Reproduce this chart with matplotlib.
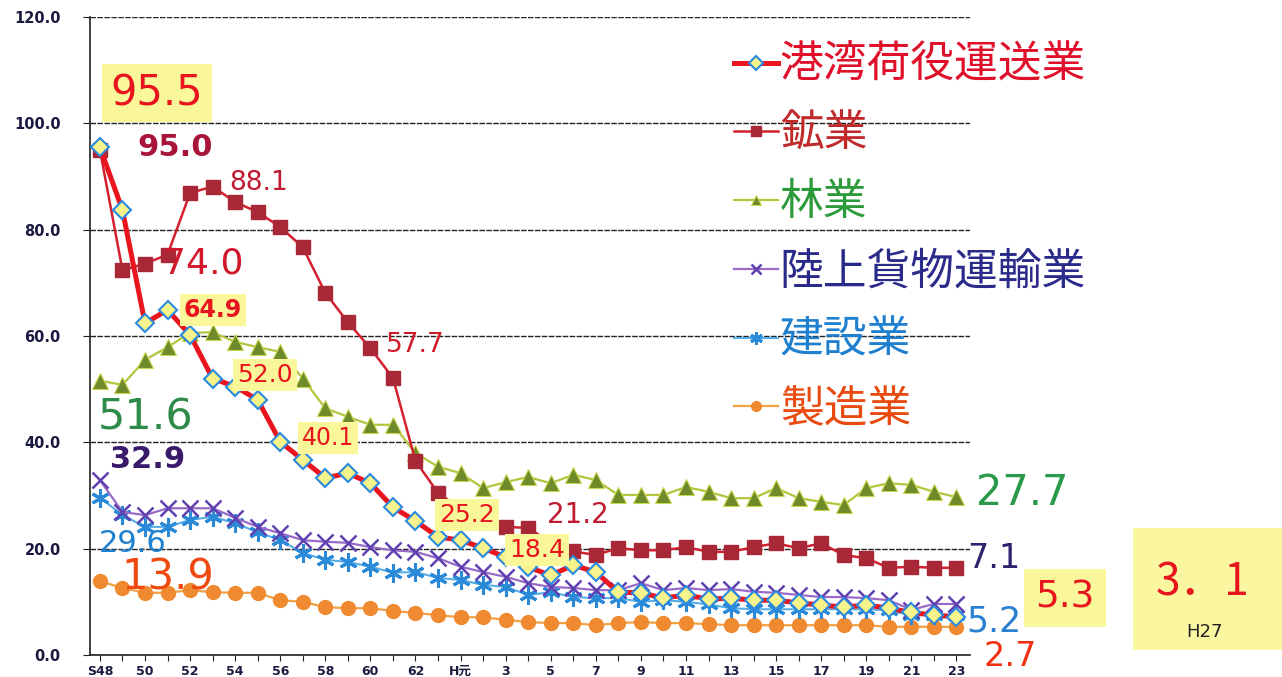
import numpy as np
import matplotlib
matplotlib.use("Agg")
import matplotlib.pyplot as plt
from matplotlib.patches import Rectangle

plt.rcParams['font.family'] = ['DejaVu Sans', 'Noto Sans CJK JP']

# ---------------- data ----------------
years = ['S48', '49', '50', '51', '52', '53', '54', '55', '56', '57', '58', '59', '60', '61',
         '62', '63', 'H元', '2', '3', '4', '5', '6', '7', '8', '9', '10', '11', '12', '13',
         '14', '15', '16', '17', '18', '19', '20', '21', '22', '23']

harbour = [95.5, 83.7, 62.4, 64.9, 60.2, 52.0, 50.5, 48.0, 40.1, 36.7, 33.3, 34.2, 32.3,
           27.8, 25.2, 22.2, 21.6, 20.1, 18.4, 16.5, 15.0, 16.9, 15.6, 11.8, 11.7, 10.7,
           11.3, 10.5, 10.7, 10.3, 10.3, 9.8, 9.4, 9.0, 9.4, 8.8, 8.0, 7.5, 7.2]
mining = [95.0, 72.4, 73.6, 75.3, 86.9, 88.1, 85.2, 83.3, 80.5, 76.7, 68.1, 62.6, 57.7,
          52.1, 36.5, 30.5, 27.5, 25.5, 24.1, 23.9, 21.2, 19.5, 18.8, 20.1, 19.7, 19.7,
          20.3, 19.4, 19.4, 20.3, 21.0, 20.1, 21.0, 18.8, 18.2, 16.4, 16.6, 16.4, 16.4]
forestry = [51.6, 50.8, 55.5, 57.9, 60.6, 60.7, 58.9, 57.9, 57.0, 52.0, 46.4, 44.8, 43.3,
            43.3, 38.0, 35.4, 34.2, 31.4, 32.5, 33.5, 32.3, 33.9, 32.9, 30.1, 30.1, 30.1,
            31.6, 30.7, 29.5, 29.5, 31.4, 29.5, 28.8, 28.2, 31.4, 32.3, 32.0, 30.7, 29.7]
land = [32.9, 26.9, 26.3, 27.6, 27.6, 27.6, 25.8, 24.1, 22.9, 21.6, 21.3, 21.1, 20.3,
        19.7, 19.4, 18.2, 16.6, 15.6, 14.7, 13.5, 12.8, 12.6, 12.2, 12.2, 13.5, 12.2,
        12.6, 12.2, 12.4, 11.9, 11.7, 11.3, 10.9, 10.9, 10.7, 10.3, 8.5, 9.6, 9.6]
construction = [29.6, 26.3, 24.1, 24.1, 25.4, 26.0, 24.8, 23.1, 21.6, 19.2, 17.9, 17.5,
                16.6, 15.5, 15.6, 14.5, 14.1, 13.2, 12.8, 11.3, 11.8, 10.9, 10.7, 10.7,
                10.0, 10.3, 10.0, 9.5, 8.8, 8.6, 8.6, 8.6, 8.6, 8.6, 8.6, 8.4, 7.5, 7.5, 7.5]
manufacturing = [13.9, 12.6, 11.7, 11.7, 12.2, 11.8, 11.7, 11.7, 10.3, 10.0, 9.0, 8.8, 8.8,
                 8.3, 7.9, 7.5, 7.1, 7.1, 6.6, 6.2, 6.0, 6.0, 5.6, 6.0, 6.2, 6.0, 6.0, 5.8,
                 5.6, 5.6, 5.6, 5.6, 5.6, 5.6, 5.6, 5.3, 5.3, 5.3, 5.3]

series_names = ['港湾荷役運送業', '鉱業', '林業', '陸上貨物運輸業', '建設業', '製造業']
yticks = [0, 20, 40, 60, 80, 100, 120]

# ---------------- figure ----------------
W, H = 1282, 677
fig = plt.figure(figsize=(W / 100, H / 100), dpi=100)
ax = fig.add_axes([90 / W, 1 - 655 / H, 880 / W, (655 - 17) / H])
x = np.arange(len(years))

def P(px, py):
    return (px / W, 1 - py / H)

l_man, = ax.plot(x, manufacturing, color='#f2a044', lw=1.6, marker='o', ms=10,
                 mfc='#f08a30', mec='#f08a30', zorder=3)
l_con, = ax.plot(x, construction, color='#5aaee8', lw=1.5, marker=(6, 2, 0), ms=13,
                 mew=2.2, mec='#2a8ad8', mfc='#2a8ad8', zorder=4)
l_land, = ax.plot(x, land, color='#9a6ac8', lw=1.6, marker='x', ms=11, mew=1.8,
                  mec='#6040b0', zorder=5)
l_for, = ax.plot(x, forestry, color='#b4c43c', lw=1.6, marker='^', ms=11,
                 mfc='#6e8a2a', mec='#c8d850', mew=0.8, zorder=6)
l_min, = ax.plot(x, mining, color='#d4202e', lw=1.8, marker='s', ms=10,
                 mfc='#a82838', mec='#a82838', zorder=7)
l_har, = ax.plot(x, harbour, color='#e8141e', lw=3.6, marker='D', ms=9.5,
                 mfc='#f6f28c', mec='#2a8ae0', mew=1.5, zorder=8)

ax.set_xlim(-0.44, 38.6)
ax.set_ylim(0, 120)
ax.set_yticks(yticks)
ax.set_yticklabels([f'{v:.1f}' for v in yticks])
ax.set_xticks(x)
ax.set_xticklabels([lab if i % 2 == 0 else '' for i, lab in enumerate(years)])
for s in ['top', 'right']:
    ax.spines[s].set_visible(False)
for s in ['left', 'bottom']:
    ax.spines[s].set_color('#222222')
    ax.spines[s].set_linewidth(1.2)
ax.tick_params(axis='y', direction='out', length=5, pad=16, labelsize=10.5,
               labelcolor='#1a1a40', color='#222222')
ax.tick_params(axis='x', direction='out', length=4, pad=3, labelsize=9,
               labelcolor='#1a1a40', color='#222222')
for t in ax.get_yticklabels() + ax.get_xticklabels():
    t.set_fontweight('bold')
ax.grid(axis='y', color='#222222', lw=1.0, ls=(0, (4, 1)))
ax.set_axisbelow(True)

# ---------------- legend ----------------
leg_colors = ['#e0102a', '#c02a2a', '#2a9a3a', '#2a2a8a', '#2080d0', '#e84a10']
leg = fig.legend([l_har, l_min, l_for, l_land, l_con, l_man], series_names,
                 loc='upper left', bbox_to_anchor=P(712, 20), frameon=False,
                 prop={'family': 'Noto Sans CJK JP', 'size': 31.5},
                 handlelength=1.0, handletextpad=0.05, labelspacing=0.52,
                 borderpad=0, markerscale=0.7)
for t, c in zip(leg.get_texts(), leg_colors):
    t.set_color(c)

# ---------------- annotations ----------------
ybox = dict(boxstyle='square,pad=0.15', fc='#f9f79a', ec='none')

def lab(px, py, s, size, color, bold=False, box=None):
    fig.text(*P(px, py), s, ha='center', va='center', fontsize=size, color=color,
             fontweight='bold' if bold else 'normal', bbox=box, zorder=10)

lab(157, 93, '95.5', 30, '#e8141e', box=dict(boxstyle='square,pad=0.2', fc='#f9f79a', ec='none'))
lab(175, 148, '95.0', 22, '#a8143a', bold=True)
lab(259, 183, '88.1', 19, '#c01a30')
lab(203, 263, '74.0', 26, '#d0182a')
lab(213, 310, '64.9', 17, '#e8141e', bold=True, box=ybox)
lab(265, 375, '52.0', 18, '#e8141e', box=ybox)
lab(415, 345, '57.7', 19, '#d01a2a')
lab(328, 438, '40.1', 17, '#e8141e', box=ybox)
lab(146, 418, '51.6', 31, '#2e8b4a')
lab(148, 460, '32.9', 22, '#3a1a6a', bold=True)
lab(133, 543, '29.6', 22, '#2080d0')
lab(168, 577, '13.9', 30, '#f04a10')
lab(467, 515, '25.2', 18, '#e8141e', box=ybox)
lab(578, 515, '21.2', 20, '#c01a30')
lab(537, 550, '18.4', 18, '#e8141e', box=ybox)
lab(1022, 493, '27.7', 30, '#2a9a4a')
lab(994, 558, '7.1', 24, '#302070')
lab(1065, 598, '5.3', 27, '#e8141e', box=dict(boxstyle='square,pad=0.3', fc='#f9f79a', ec='none'))
lab(994, 622, '5.2', 25, '#2a80d0')
lab(1010, 657, '2.7', 24, '#f03010')

fig.patches.append(Rectangle(P(1133, 650), 149 / W, 122 / H, transform=fig.transFigure,
                             fc='#fbf6a0', ec='none', zorder=1))
fig.text(*P(1203, 582), '3．1', ha='center', va='center', fontsize=32, color='#e8141e',
         family=['Noto Sans CJK JP', 'DejaVu Sans'], zorder=10)
fig.text(*P(1205, 632), 'H27', ha='center', va='center', fontsize=13, color='#222222',
         zorder=10)

fig.savefig('out.png', dpi=100)
